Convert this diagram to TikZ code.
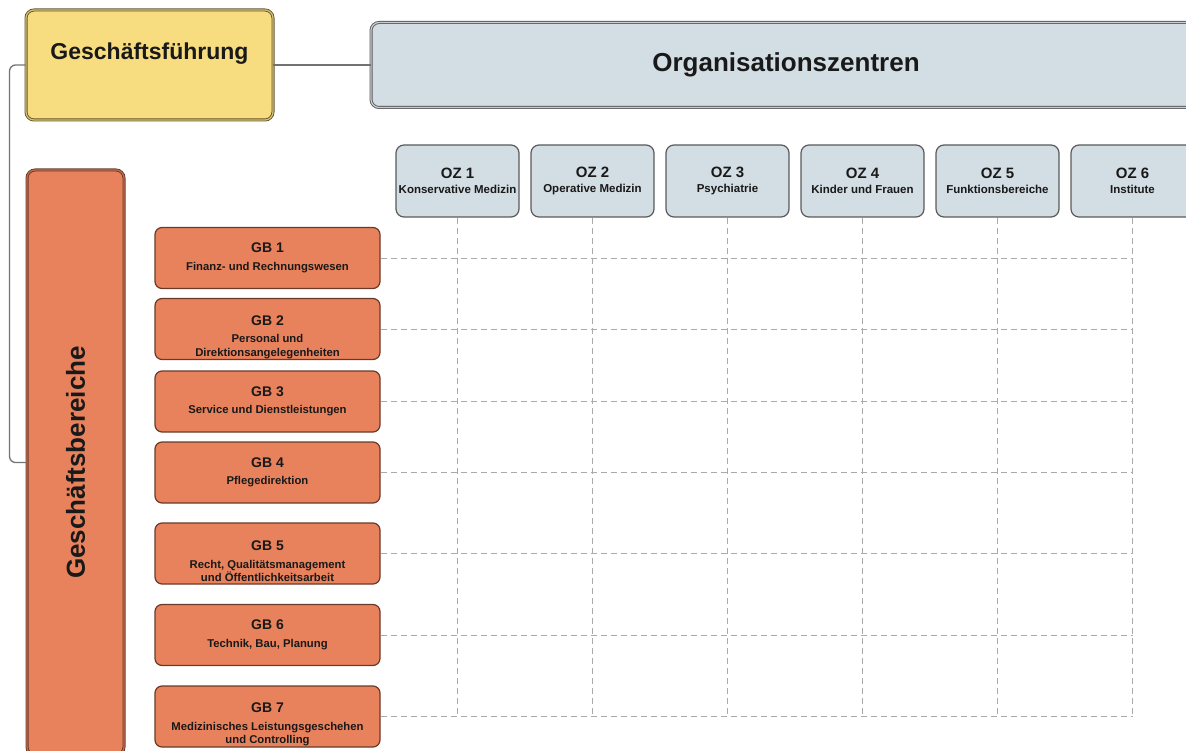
\documentclass[tikz,border=0pt]{standalone}
\usepackage{fontspec}
\setmainfont{Liberation Sans}
\usepackage{tikz}
\definecolor{niceorange}{RGB}{232, 130, 92}
\definecolor{niceyellow}{RGB}{247, 221, 128}
\definecolor{niceblue}{RGB}{211, 221, 228}
\definecolor{dbrown}{RGB}{105, 58, 40}
\definecolor{lbrown}{RGB}{190, 110, 80}
\definecolor{dolive}{RGB}{100, 85, 40}
\definecolor{lolive}{RGB}{215, 195, 120}
\definecolor{dgray}{RGB}{90, 90, 90}
\definecolor{mgray}{RGB}{115, 115, 115}
\definecolor{lgray}{RGB}{170, 170, 170}
\definecolor{vlgray}{RGB}{200, 205, 210}
\newcommand{\headsize}{\fontsize{14}{17}\selectfont}
\newcommand{\ozsize}{\fontsize{15}{17}\selectfont}
\newcommand{\topgap}{\rule{0pt}{26pt}}

\begin{document}
\begin{tikzpicture}[x = 1pt, y = -1pt,
			every node/.style = {text = black!90},
			gbbox/.style = {draw = dbrown, line width = 1.2pt, fill = niceorange, rounded corners = 7pt, minimum width = 225pt, minimum height = 61pt, inner sep = 0pt, align = center, font = \bfseries\fontsize{11.3}{13.5}\selectfont},
			ozbox/.style = {draw = dgray, line width = 1.2pt, fill = niceblue, rounded corners = 8pt, minimum width = 123pt, minimum height = 72pt, inner sep = 0pt, align = center, font = \bfseries\fontsize{11.5}{13}\selectfont},
			bigbox/.style = {line width = 0.9pt, double distance = 1.2pt, rounded corners = 8pt, inner sep = 0pt},
			conn/.style = {draw = mgray, line width = 1.3pt},
			gridline/.style = {draw = lgray, line width = 0.9pt, dash pattern = on 6pt off 4pt}]
			\useasboundingbox (0,0) rectangle (1186,751);
			\clip (0,0) rectangle (1186,751);
			% top row
			\node (gf) at (149.5,65) [bigbox, draw = dolive, double = lolive, fill = niceyellow, minimum width = 247pt, minimum height = 110pt] {};
			\node (gftext) at (149.5,60) [anchor = base, font = \bfseries\fontsize{23}{27}\selectfont] {Geschäftsführung};
			\node (org) at (786,65) [bigbox, draw = dgray, double = vlgray, fill = niceblue, minimum width = 830pt, minimum height = 85pt, font = \bfseries\fontsize{26}{30}\selectfont] {Organisationszentren};
			\node (gbr) at (75.5,462.5) [bigbox, draw = dbrown, double = lbrown, fill = niceorange, minimum width = 97pt, minimum height = 585pt] {};
			\node (gbrtext) at (gbr.center) [rotate = 90, font = \bfseries\fontsize{26}{30}\selectfont] {Geschäftsbereiche};
			% organisation centres
			\node (oz1) at (457.5,181) [ozbox] {{\ozsize OZ 1}\\[2pt] Konservative Medizin};
			\node (oz2) at (592.5,181) [ozbox] {{\ozsize OZ 2}\\[2pt] Operative Medizin};
			\node (oz3) at (727.5,181) [ozbox] {{\ozsize OZ 3}\\[2pt] Psychiatrie};
			\node (oz4) at (862.5,181) [ozbox] {{\ozsize OZ 4}\\[2pt] Kinder und Frauen};
			\node (oz5) at (997.5,181) [ozbox] {{\ozsize OZ 5}\\[2pt] Funktionsbereiche};
			\node (oz6) at (1132.5,181) [ozbox] {{\ozsize OZ 6}\\[2pt] Institute};
			% business areas
			\node (gb1) at (267.5,258) [gbbox] {{\headsize GB 1}\\[4pt] Finanz- und Rechnungswesen};
			\node (gb2) at (267.5,329) [gbbox] {{\topgap\headsize GB 2}\\[4pt] Personal und\\ Direktionsangelegenheiten};
			\node (gb3) at (267.5,401.5) [gbbox] {{\headsize GB 3}\\[4pt] Service und Dienstleistungen};
			\node (gb4) at (267.5,472.5) [gbbox] {{\headsize GB 4}\\[4pt] Pflegedirektion};
			\node (gb5) at (267.5,553.5) [gbbox] {{\topgap\headsize GB 5}\\[4pt] Recht, Qualitätsmanagement\\ und Öffentlichkeitsarbeit};
			\node (gb6) at (267.5,635) [gbbox] {{\headsize GB 6}\\[4pt] Technik, Bau, Planung};
			\node (gb7) at (267.5,716.5) [gbbox] {{\topgap\headsize GB 7}\\[4pt] Medizinisches Leistungsgeschehen\\ und Controlling};
			% connectors
			\draw[conn] (gf) -- (org);
			\draw[conn, rounded corners = 6pt] (gf.west) -- ++(-16,0) |- (gbr.west);
			% matrix grid
			\draw[gridline] (gb1.east) -- (gb1 -| oz6);
			\draw[gridline] (gb2.east) -- (gb2 -| oz6);
			\draw[gridline] (gb3.east) -- (gb3 -| oz6);
			\draw[gridline] (gb4.east) -- (gb4 -| oz6);
			\draw[gridline] (gb5.east) -- (gb5 -| oz6);
			\draw[gridline] (gb6.east) -- (gb6 -| oz6);
			\draw[gridline] (gb7.east) -- (gb7 -| oz6);
			\draw[gridline] (oz1.south) -- (oz1 |- gb7);
			\draw[gridline] (oz2.south) -- (oz2 |- gb7);
			\draw[gridline] (oz3.south) -- (oz3 |- gb7);
			\draw[gridline] (oz4.south) -- (oz4 |- gb7);
			\draw[gridline] (oz5.south) -- (oz5 |- gb7);
			\draw[gridline] (oz6.south) -- (oz6 |- gb7);
			\end{tikzpicture}
\end{document}
